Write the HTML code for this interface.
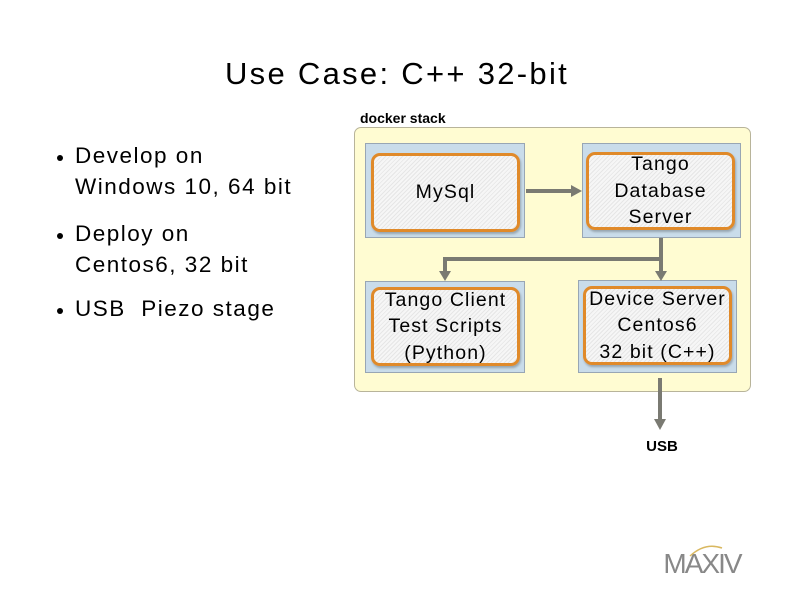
<!DOCTYPE html>
<html><head><meta charset="utf-8"><style>
body{margin:0;width:794px;height:595px;background:#fff;position:relative;overflow:hidden;font-family:"Liberation Sans",Arial,sans-serif;}
.a{position:absolute}
.title{left:0;width:794px;top:56px;text-align:center;font-size:31px;color:#000;letter-spacing:2.3px}
.bul{left:75px;font-size:22.5px;line-height:31px;color:#000;letter-spacing:1.5px}
.dot{left:57px;width:6px;height:6px;border-radius:50%;background:#000}
.cont{left:354px;top:127px;width:395px;height:263px;background:#fffcd2;border:1px solid #b8b49a;border-radius:7px}
.blue{background:#c9dcea;border:1px solid #98a6b4;box-sizing:border-box}
.org{box-sizing:border-box;border:3px solid #e08a2a;border-radius:9px;background:repeating-linear-gradient(135deg,#f6f6f6 0 2px,#e6e6e6 2px 3px);display:flex;align-items:center;justify-content:center;text-align:center;font-size:19.5px;line-height:26.5px;color:#000;box-shadow:1px 2px 2px rgba(0,0,0,.25);letter-spacing:1.1px;white-space:nowrap}
</style></head><body>
<div class="a title">Use Case: C++ 32-bit</div>
<div class="a dot" style="top:155px"></div>
<div class="a bul" style="top:140px">Develop on<br>Windows 10, 64 bit</div>
<div class="a dot" style="top:233px"></div>
<div class="a bul" style="top:218px">Deploy on<br>Centos6, 32 bit</div>
<div class="a dot" style="top:308px"></div>
<div class="a bul" style="top:293px">USB&nbsp; Piezo stage</div>
<div class="a" style="left:360px;top:110px;font-size:14px;font-weight:bold">docker stack</div>
<div class="a cont"></div>
<div class="a blue" style="left:365px;top:143px;width:160px;height:95px"></div>
<div class="a blue" style="left:582px;top:143px;width:159px;height:95px"></div>
<div class="a blue" style="left:365px;top:281px;width:160px;height:92px"></div>
<div class="a blue" style="left:578px;top:280px;width:159px;height:93px"></div>
<div class="a org" style="left:371px;top:153px;width:149px;height:79px">MySql</div>
<div class="a org" style="left:586px;top:152px;width:149px;height:78px">Tango<br>Database<br>Server</div>
<div class="a org" style="left:371px;top:287px;width:149px;height:79px">Tango Client<br>Test Scripts<br>(Python)</div>
<div class="a org" style="left:583px;top:286px;width:149px;height:79px">Device Server<br>Centos6<br>32 bit (C++)</div>
<svg class="a" style="left:0;top:0" width="794" height="595">
<g stroke="#7a7a72" stroke-width="4" fill="none">
<line x1="526" y1="191" x2="572" y2="191"/>
<line x1="661" y1="238" x2="661" y2="272"/>
<line x1="443" y1="259" x2="663" y2="259"/>
<line x1="445" y1="257" x2="445" y2="272"/>
<line x1="660" y1="378" x2="660" y2="420"/>
</g>
<g fill="#7a7a72">
<polygon points="571,185 582,191 571,197"/>
<polygon points="439,271 451,271 445,281"/>
<polygon points="655,271 667,271 661,281"/>
<polygon points="654,419 666,419 660,430"/>
</g>
<text x="662" y="451" font-family="Liberation Sans" font-weight="bold" font-size="15" text-anchor="middle">USB</text>
<text x="702" y="573" font-family="Liberation Sans" font-size="28" fill="#888" text-anchor="middle" letter-spacing="-2">MAXIV</text>
<path d="M690 556 Q705 542 722 548" stroke="#d9b860" stroke-width="1.5" fill="none"/>
</svg>
</body></html>
